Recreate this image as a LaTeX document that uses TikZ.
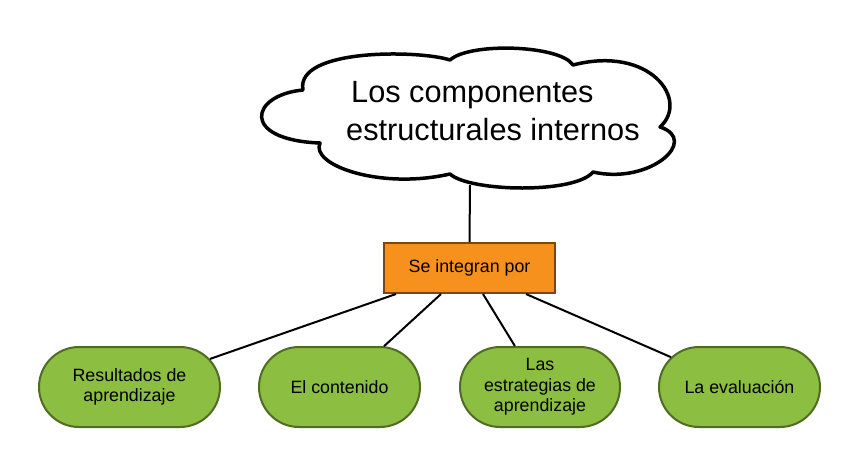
\documentclass[tikz,border=0pt]{standalone}
\usepackage{fontspec}
\setmainfont{Liberation Sans}
\usetikzlibrary{calc,shapes.misc}
\definecolor{leafgreen}{RGB}{140,190,65}
\definecolor{leafborder}{RGB}{80,108,35}
\definecolor{boxorange}{RGB}{247,145,30}
\definecolor{boxbrown}{RGB}{122,70,20}
\tikzset{
  leaf/.style={rounded rectangle, draw=leafborder, line width=2pt, fill=leafgreen,
    minimum width=#1, minimum height=80pt, inner sep=0pt, align=center,
    font=\fontsize{17.8}{20.5}\selectfont},
  linkbox/.style={draw=boxbrown, line width=2pt, fill=boxorange,
    minimum width=171pt, minimum height=50pt, inner sep=0pt,
    font=\fontsize{17.8}{20.5}\selectfont},
  connector/.style={draw=black, line width=2pt},
  cloudline/.style={draw=black, line width=3.5pt, fill=white, line join=round}
}
\begin{document}
\begin{tikzpicture}[x=1pt,y=-1pt]
\useasboundingbox (0,0) rectangle (860,467);
% cloud
\path[cloudline] (303,90)
  .. controls (250,95) and (240,140) .. (320,143)
  .. controls (310,165) and (380,190) .. (450,174)
  .. controls (470,192) and (575,194) .. (593,172)
  .. controls (650,185) and (700,140) .. (660,127)
  .. controls (690,100) and (650,45) .. (573,65)
  .. controls (560,45) and (470,42) .. (450,60)
  .. controls (420,50) and (295,48) .. (303,90) -- cycle;
\node[anchor=base west, align=left, inner sep=0pt,
  font=\fontsize{30.7}{38}\selectfont] (title) at (346,140)
  {\hspace*{5pt}Los componentes\\estructurales internos};
\coordinate (cloudbottom) at (470,185);
% linking box
\node[linkbox] (se) at (469.5,268) {Se integran por};
% leaves
\node[leaf=181pt] (n1) at (129.5,387) {Resultados de\\aprendizaje};
\node[leaf=161pt] (n2) at (339.5,387) {El contenido};
\node[leaf=160pt] (n3) at (540,387) {Las\\estrategias de\\aprendizaje};
\node[leaf=161pt] (n4) at (739.5,387) {La evaluación};
% connectors
\draw[connector] (cloudbottom) -- (se.north);
\draw[connector] ([xshift=13pt]se.south west) -- (n1);
\draw[connector] ([xshift=58pt]se.south west) -- (n2);
\draw[connector] ([xshift=100pt]se.south west) -- (n3);
\draw[connector] ([xshift=143pt]se.south west) -- (n4);
\end{tikzpicture}
\end{document}
